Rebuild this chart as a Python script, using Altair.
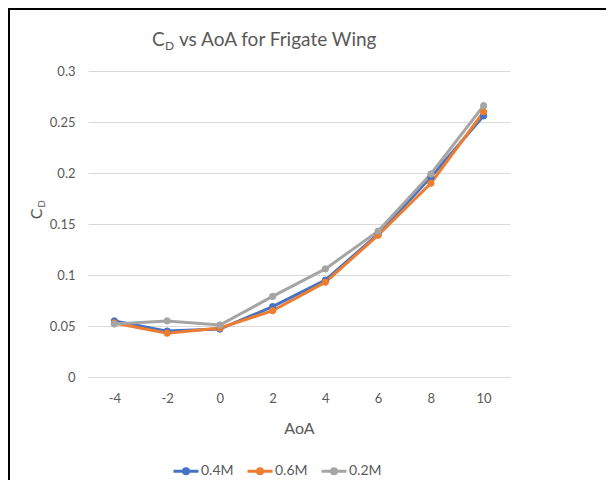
import altair as alt
import pandas as pd

aoa = [-4, -2, 0, 2, 4, 6, 8, 10]
series_names = ["0.4M", "0.6M", "0.2M"]
cd_04 = [0.055, 0.045, 0.047, 0.069, 0.095, 0.140, 0.196, 0.256]
cd_06 = [0.053, 0.043, 0.048, 0.065, 0.093, 0.139, 0.190, 0.260]
cd_02 = [0.052, 0.055, 0.051, 0.079, 0.106, 0.143, 0.199, 0.266]
colors = ["#4472C4", "#ED7D31", "#A5A5A5"]
y_ticks = [0, 0.05, 0.1, 0.15, 0.2, 0.25, 0.3]

rows = []
for name, vals in zip(series_names, [cd_04, cd_06, cd_02]):
    for a, v in zip(aoa, vals):
        rows.append({"AoA": a, "CD": v, "series": name})
df = pd.DataFrame(rows)

FONT = "Lato"
GREY = "#595959"

x_enc = alt.X("AoA:O", sort=aoa,
              scale=alt.Scale(type="point", padding=0.5),
              axis=alt.Axis(title="AoA", labelAngle=0, ticks=False,
                            domain=True, domainColor="#D9D9D9",
                            labelPadding=15, titlePadding=15,
                            labelFontSize=13, titleFontSize=16,
                            labelColor=GREY, titleColor=GREY,
                            labelFont=FONT, titleFont=FONT,
                            titleFontWeight="normal"))
y_enc = alt.Y("CD:Q", scale=alt.Scale(domain=[0, 0.3]),
              axis=alt.Axis(title=None, values=y_ticks, format="~g",
                            ticks=False, domain=False, grid=True,
                            gridColor="#D9D9D9", labelPadding=13,
                            labelFontSize=13, labelColor=GREY,
                            labelFont=FONT))

legend = alt.Legend(title=None, orient="none", direction="horizontal",
                    legendX=84, legendY=386,
                    symbolType="M-1,0L1,0M-0.2,0A0.2,0.2,0,1,0,0.2,0A0.2,0.2,0,1,0,-0.2,0Z",
                    symbolSize=625, symbolStrokeWidth=3,
                    labelFont=FONT, labelFontSize=14, labelColor=GREY,
                    labelOffset=1, columnPadding=7)

stroke_enc = alt.Stroke("series:N", sort=series_names,
                        scale=alt.Scale(domain=series_names, range=colors),
                        legend=legend)
fill_enc = alt.Fill("series:N", sort=series_names,
                    scale=alt.Scale(domain=series_names, range=colors),
                    legend=legend)

lines = alt.Chart(df).mark_line(strokeWidth=3).encode(
    x=x_enc, y=y_enc, stroke=stroke_enc, detail="series:N")
points = alt.Chart(df).mark_point(filled=True, size=40, strokeWidth=1, opacity=1).encode(
    x=x_enc, y=y_enc, fill=fill_enc, stroke=stroke_enc)

title_df = pd.DataFrame([{"t": 1}])
t_c = alt.Chart(title_df).mark_text(text="C", font=FONT, fontSize=19, color=GREY,
                                    align="left", baseline="alphabetic").encode(
    x=alt.value(64), y=alt.value(-25))
t_d = alt.Chart(title_df).mark_text(text="D", font=FONT, fontSize=12, color=GREY,
                                    align="left", baseline="alphabetic").encode(
    x=alt.value(77), y=alt.value(-21))
t_rest = alt.Chart(title_df).mark_text(text="vs AoA for Frigate Wing", font=FONT,
                                       fontSize=19, color=GREY,
                                       align="left", baseline="alphabetic").encode(
    x=alt.value(91), y=alt.value(-25))
yt_c = alt.Chart(title_df).mark_text(text="C", font=FONT, fontSize=16, color=GREY,
                                     align="center", baseline="middle", angle=270).encode(
    x=alt.value(-51), y=alt.value(143))
yt_d = alt.Chart(title_df).mark_text(text="D", font=FONT, fontSize=10, color=GREY,
                                     align="center", baseline="middle", angle=270).encode(
    x=alt.value(-46), y=alt.value(133))
frame_left = alt.Chart(title_df).mark_rule(color="black", strokeWidth=2).encode(
    x=alt.value(-79), y=alt.value(-62), y2=alt.value(420))
frame_top = alt.Chart(title_df).mark_rule(color="black", strokeWidth=2).encode(
    x=alt.value(-80), x2=alt.value(518), y=alt.value(-62))

chart = alt.layer(frame_left, frame_top, lines, points, t_c, t_d, t_rest, yt_c, yt_d).properties(
    width=422, height=306,
    autosize=alt.AutoSizeParams(type="none"),
    padding={"left": 80, "top": 63, "right": 96, "bottom": 103},
    background="white",
).configure_view(stroke=None)

chart.save("out.html", embed_options={"renderer": "svg", "actions": False})
